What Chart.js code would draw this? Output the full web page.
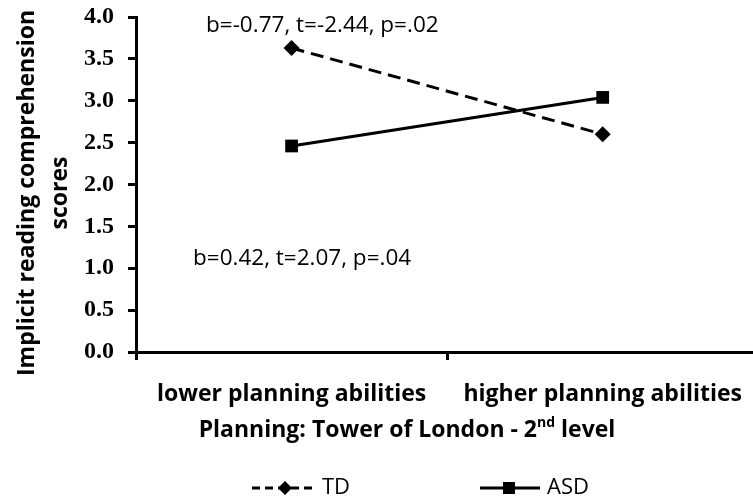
<!DOCTYPE html>
<html>
<head>
<meta charset="utf-8">
<script src="https://cdn.jsdelivr.net/npm/chart.js@4/dist/chart.umd.min.js"></script>
<style>
  html, body { margin: 0; padding: 0; background: #fff; overflow: hidden; }
  #wrap { width: 753px; height: 501px; position: relative; }
  canvas { display: block; }
</style>
</head>
<body>
<div id="wrap"><canvas id="chart"></canvas></div>
<script>
        // Datos
        const categories = ['lower planning abilities', 'higher planning abilities'];
        const tdValues = [3.63, 2.60];
        const asdValues = [2.46, 3.04];
        const seriesNames = ['TD', 'ASD'];
        const annotations = [
            { text: 'b=-0.77, t=-2.44, p=.02', value: 3.82 },
            { text: 'b=0.42, t=2.07, p=.04', value: 1.04 }
        ];

        const SANS = '"Open Sans", Lato, sans-serif';

        function toPoints(values) {
            return values.map((v, i) => ({ x: i, y: v }));
        }

        // Textos extra: títulos de ejes, anotaciones y leyenda
        const extrasPlugin = {
            id: 'extras',
            afterDraw(chart) {
                const ctx = chart.ctx;
                const y = chart.scales.y;
                ctx.save();
                ctx.fillStyle = '#000';
                ctx.strokeStyle = '#000';

                // título eje Y (dos líneas)
                ctx.save();
                ctx.translate(0, 193);
                ctx.rotate(-Math.PI / 2);
                ctx.font = 'bold 23px ' + SANS;
                ctx.textAlign = 'center';
                ctx.textBaseline = 'middle';
                ctx.fillText('Implicit reading comprehension', 0, 27);
                ctx.fillText('scores', 0, 60);
                ctx.restore();

                // título eje X con superíndice
                ctx.font = 'bold 23px ' + SANS;
                ctx.textBaseline = 'alphabetic';
                const p1 = 'Planning: Tower of London - 2';
                const p3 = ' level';
                const w1 = ctx.measureText(p1).width;
                const w3 = ctx.measureText(p3).width;
                ctx.font = 'bold 14px ' + SANS;
                const w2 = ctx.measureText('nd').width;
                let x = 407 - (w1 + w2 + w3) / 2;
                ctx.font = 'bold 23px ' + SANS;
                ctx.textAlign = 'left';
                ctx.fillText(p1, x, 437);
                x += w1;
                ctx.font = 'bold 14px ' + SANS;
                ctx.fillText('nd', x, 427);
                x += w2;
                ctx.font = 'bold 23px ' + SANS;
                ctx.fillText(p3, x, 437);

                // anotaciones
                ctx.font = '22.5px ' + SANS;
                ctx.fillText(annotations[0].text, 206, y.getPixelForValue(annotations[0].value));
                ctx.fillText(annotations[1].text, 193, y.getPixelForValue(annotations[1].value));

                // leyenda
                const ly = 488;
                ctx.lineWidth = 3;
                ctx.setLineDash([8, 5]);
                ctx.beginPath();
                ctx.moveTo(252, ly);
                ctx.lineTo(316, ly);
                ctx.stroke();
                ctx.setLineDash([]);
                ctx.beginPath();
                ctx.moveTo(285, ly - 7);
                ctx.lineTo(292, ly);
                ctx.lineTo(285, ly + 7);
                ctx.lineTo(278, ly);
                ctx.closePath();
                ctx.fill();
                ctx.beginPath();
                ctx.moveTo(480, ly);
                ctx.lineTo(540, ly);
                ctx.stroke();
                ctx.fillRect(503, ly - 6, 12, 12);
                ctx.font = '22px ' + SANS;
                ctx.textBaseline = 'middle';
                ctx.fillText(seriesNames[0], 322, ly);
                ctx.fillText(seriesNames[1], 547, ly);

                ctx.restore();
            }
        };

        // solo la marca del medio (0.5) en el eje X
        const midTick = (c) => (c.tick && !Number.isInteger(c.tick.value) && c.tick.value < 1.4) ? '#000' : 'rgba(0,0,0,0)';

        const ctx = document.getElementById('chart').getContext('2d');
        const chart = new Chart(ctx, {
            type: 'line',
            data: {
                datasets: [{
                    label: seriesNames[0],
                    data: toPoints(tdValues),
                    borderColor: '#000',
                    backgroundColor: '#000',
                    borderWidth: 3,
                    borderDash: [13, 7],
                    pointStyle: 'rectRot',
                    pointRadius: 8,
                    pointBorderWidth: 0,
                    fill: false,
                    tension: 0
                }, {
                    label: seriesNames[1],
                    data: toPoints(asdValues),
                    borderColor: '#000',
                    backgroundColor: '#000',
                    borderWidth: 3,
                    pointStyle: 'rect',
                    pointRadius: 9,
                    pointBorderWidth: 0,
                    fill: false,
                    tension: 0
                }]
            },
            options: {
                responsive: true,
                maintainAspectRatio: false,
                animation: false,
                layout: {
                    autoPadding: false,
                    padding: { top: 17, right: 0, bottom: 49, left: 0 }
                },
                plugins: {
                    legend: { display: false },
                    tooltip: { enabled: false }
                },
                scales: {
                    x: {
                        type: 'linear',
                        min: -0.5,
                        max: 1.483,
                        afterFit: (scale) => {
                            scale.height = 100;
                            scale.paddingLeft = 0;
                            scale.paddingRight = 0;
                        },
                        border: { color: '#000', width: 3 },
                        grid: {
                            display: true,
                            drawOnChartArea: false,
                            drawTicks: true,
                            tickLength: 8,
                            tickColor: midTick,
                            lineWidth: 3
                        },
                        ticks: {
                            stepSize: 0.5,
                            autoSkip: false,
                            color: '#000',
                            padding: 21,
                            maxRotation: 0,
                            callback: (v) => Number.isInteger(v) ? (categories[v] ?? '') : '',
                            font: { family: SANS, size: 23, weight: 'bold' }
                        }
                    },
                    y: {
                        min: 0,
                        max: 4,
                        afterFit: (scale) => {
                            scale.width = 136;
                            scale.paddingTop = 0;
                            scale.paddingBottom = 0;
                        },
                        border: { color: '#000', width: 3 },
                        grid: {
                            display: true,
                            drawOnChartArea: false,
                            drawTicks: true,
                            tickLength: 8,
                            tickColor: '#000',
                            lineWidth: 3
                        },
                        ticks: {
                            stepSize: 0.5,
                            color: '#000',
                            padding: 14,
                            callback: (v) => Number(v).toFixed(1),
                            font: { family: '"Liberation Serif", serif', size: 24, weight: 'bold' }
                        }
                    }
                }
            },
            plugins: [extrasPlugin]
        });
</script>
</body>
</html>
